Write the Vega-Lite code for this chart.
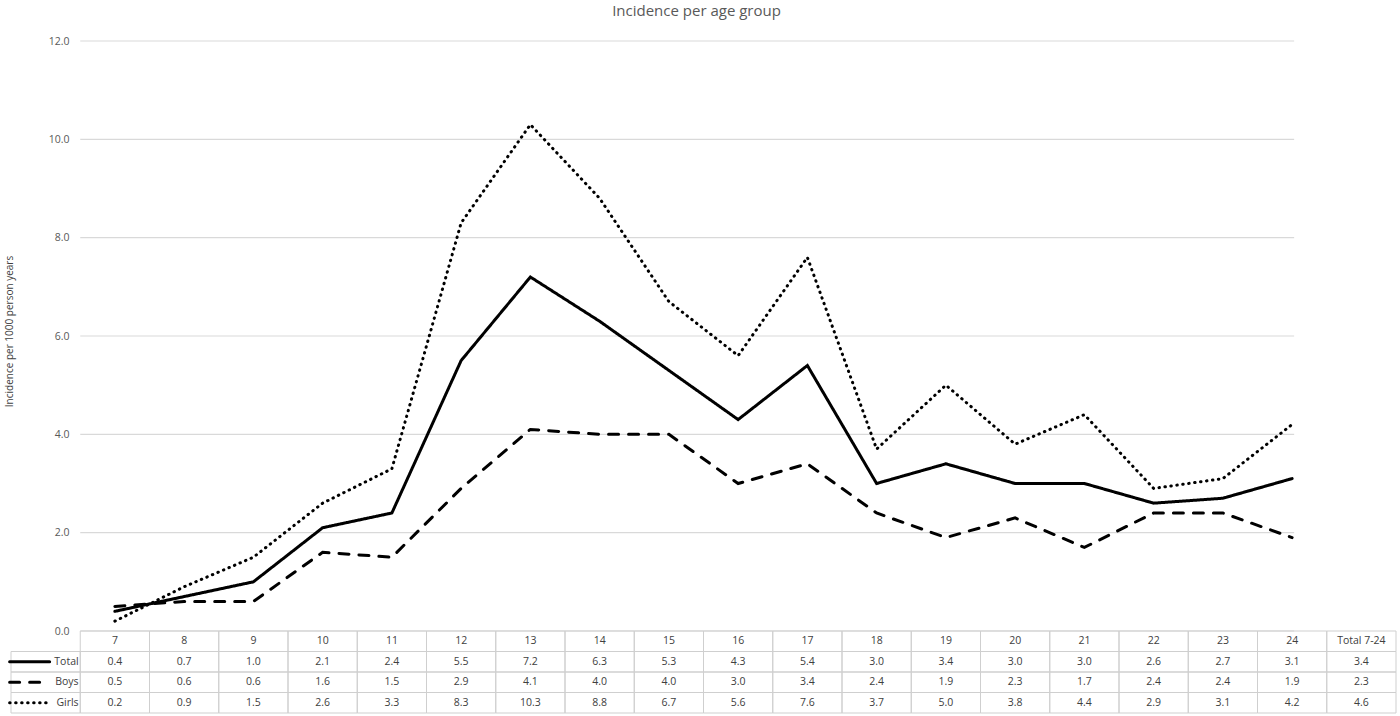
{
  "$schema": "https://vega.github.io/schema/vega-lite/v6.json",
  "description": "Incidence per 1000 person years by age, Excel style line chart with data table",
  "autosize": "pad",
  "padding": {"left": 3, "top": 4, "right": 5, "bottom": 2},
  "background": "white",
  "title": {
    "text": "Incidence per age group",
    "font": "Open Sans",
    "fontSize": 15,
    "fontWeight": "normal",
    "color": "#595959",
    "anchor": "middle",
    "frame": "group",
    "offset": 17,
    "dx": -7
  },
  "config": {
    "font": "Open Sans",
    "view": {"stroke": null}
  },
  "datasets": {
    "incidence": [
      {"series": "Total", "col": "7", "value": 0.4},
      {"series": "Total", "col": "8", "value": 0.7},
      {"series": "Total", "col": "9", "value": 1.0},
      {"series": "Total", "col": "10", "value": 2.1},
      {"series": "Total", "col": "11", "value": 2.4},
      {"series": "Total", "col": "12", "value": 5.5},
      {"series": "Total", "col": "13", "value": 7.2},
      {"series": "Total", "col": "14", "value": 6.3},
      {"series": "Total", "col": "15", "value": 5.3},
      {"series": "Total", "col": "16", "value": 4.3},
      {"series": "Total", "col": "17", "value": 5.4},
      {"series": "Total", "col": "18", "value": 3.0},
      {"series": "Total", "col": "19", "value": 3.4},
      {"series": "Total", "col": "20", "value": 3.0},
      {"series": "Total", "col": "21", "value": 3.0},
      {"series": "Total", "col": "22", "value": 2.6},
      {"series": "Total", "col": "23", "value": 2.7},
      {"series": "Total", "col": "24", "value": 3.1},
      {"series": "Total", "col": "Total 7-24", "value": 3.4},
      {"series": "Boys", "col": "7", "value": 0.5},
      {"series": "Boys", "col": "8", "value": 0.6},
      {"series": "Boys", "col": "9", "value": 0.6},
      {"series": "Boys", "col": "10", "value": 1.6},
      {"series": "Boys", "col": "11", "value": 1.5},
      {"series": "Boys", "col": "12", "value": 2.9},
      {"series": "Boys", "col": "13", "value": 4.1},
      {"series": "Boys", "col": "14", "value": 4.0},
      {"series": "Boys", "col": "15", "value": 4.0},
      {"series": "Boys", "col": "16", "value": 3.0},
      {"series": "Boys", "col": "17", "value": 3.4},
      {"series": "Boys", "col": "18", "value": 2.4},
      {"series": "Boys", "col": "19", "value": 1.9},
      {"series": "Boys", "col": "20", "value": 2.3},
      {"series": "Boys", "col": "21", "value": 1.7},
      {"series": "Boys", "col": "22", "value": 2.4},
      {"series": "Boys", "col": "23", "value": 2.4},
      {"series": "Boys", "col": "24", "value": 1.9},
      {"series": "Boys", "col": "Total 7-24", "value": 2.3},
      {"series": "Girls", "col": "7", "value": 0.2},
      {"series": "Girls", "col": "8", "value": 0.9},
      {"series": "Girls", "col": "9", "value": 1.5},
      {"series": "Girls", "col": "10", "value": 2.6},
      {"series": "Girls", "col": "11", "value": 3.3},
      {"series": "Girls", "col": "12", "value": 8.3},
      {"series": "Girls", "col": "13", "value": 10.3},
      {"series": "Girls", "col": "14", "value": 8.8},
      {"series": "Girls", "col": "15", "value": 6.7},
      {"series": "Girls", "col": "16", "value": 5.6},
      {"series": "Girls", "col": "17", "value": 7.6},
      {"series": "Girls", "col": "18", "value": 3.7},
      {"series": "Girls", "col": "19", "value": 5.0},
      {"series": "Girls", "col": "20", "value": 3.8},
      {"series": "Girls", "col": "21", "value": 4.4},
      {"series": "Girls", "col": "22", "value": 2.9},
      {"series": "Girls", "col": "23", "value": 3.1},
      {"series": "Girls", "col": "24", "value": 4.2},
      {"series": "Girls", "col": "Total 7-24", "value": 4.6}
    ],
    "series": [
      {"series": "Total"},
      {"series": "Boys"},
      {"series": "Girls"}
    ],
    "grid": [
      {"tick": 0}, {"tick": 2}, {"tick": 4}, {"tick": 6},
      {"tick": 8}, {"tick": 10}, {"tick": 12}
    ]
  },
  "bounds": "flush",
  "spacing": 0,
  "vconcat": [
    {
      "width": 1385,
      "height": 590,
      "layer": [
        {
          "data": {"name": "grid"},
          "mark": {"type": "rule", "color": "#d9d9d9", "strokeWidth": 1.2, "xOffset": -34.6, "x2Offset": 2},
          "encoding": {
            "x": {
              "datum": "7",
              "type": "nominal",
              "scale": {
                "type": "band",
                "domain": ["", "7", "8", "9", "10", "11", "12", "13", "14", "15", "16", "17", "18", "19", "20", "21", "22", "23", "24", "Total 7-24"],
                "paddingInner": 0,
                "paddingOuter": 0
              },
              "axis": null
            },
            "x2": {"datum": "24"},
            "y": {
              "field": "tick",
              "type": "quantitative",
              "scale": {"domain": [0, 12], "nice": false},
              "axis": {
                "values": [0, 2, 4, 6, 8, 10, 12],
                "format": ".1f",
                "domain": false,
                "ticks": false,
                "grid": false,
                "offset": -62,
                "labelPadding": 4,
                "labelFontSize": 10.5,
                "labelColor": "#595959",
                "title": "Incidence per 1000 person years",
                "titleFontSize": 10,
                "titleFontWeight": "normal",
                "titleColor": "#404040",
                "titleBaseline": "middle",
                "titleX": -64,
                "titleY": 290
              }
            }
          }
        },
        {
          "data": {"name": "incidence"},
          "transform": [{"filter": "datum.col !== 'Total 7-24'"}],
          "mark": {"type": "line", "color": "#000000", "strokeWidth": 3, "strokeCap": "round", "strokeJoin": "miter"},
          "encoding": {
            "x": {"field": "col", "type": "nominal", "axis": null},
            "y": {"field": "value", "type": "quantitative"},
            "strokeDash": {
              "field": "series",
              "type": "nominal",
              "scale": {"domain": ["Total", "Boys", "Girls"], "range": [[1, 0], [10, 10], [0.5, 5.5]]},
              "legend": null
            },
            "order": {"value": null}
          }
        }
      ]
    },
    {
      "width": 1385,
      "height": 82,
      "encoding": {
        "x": {
          "field": "col",
          "type": "nominal",
          "scale": {
            "type": "band",
            "domain": ["", "7", "8", "9", "10", "11", "12", "13", "14", "15", "16", "17", "18", "19", "20", "21", "22", "23", "24", "Total 7-24"],
            "paddingInner": 0,
            "paddingOuter": 0
          },
          "axis": null
        },
        "y": {
          "field": "series",
          "type": "nominal",
          "scale": {"type": "band", "domain": ["hdr", "Total", "Boys", "Girls"], "paddingInner": 0, "paddingOuter": 0},
          "axis": null
        }
      },
      "layer": [
        {
          "data": {"name": "incidence"},
          "mark": {"type": "rect", "fill": "white", "fillOpacity": 0, "stroke": "#cfcfcf", "strokeWidth": 1}
        },
        {
          "data": {"name": "incidence"},
          "transform": [{"filter": "datum.series === 'Total'"}],
          "mark": {"type": "rect", "fill": "white", "fillOpacity": 0, "stroke": "#cfcfcf", "strokeWidth": 1},
          "encoding": {"y": {"datum": "hdr", "type": "nominal"}}
        },
        {
          "data": {"name": "series"},
          "mark": {"type": "rect", "fill": "white", "fillOpacity": 0, "stroke": "#cfcfcf", "strokeWidth": 1},
          "encoding": {"x": {"datum": "", "type": "nominal"}}
        },
        {
          "data": {"name": "incidence"},
          "mark": {"type": "text", "fontSize": 10.5, "color": "#404040"},
          "encoding": {"text": {"field": "value", "type": "quantitative", "format": ".1f"}}
        },
        {
          "data": {"name": "incidence"},
          "transform": [{"filter": "datum.series === 'Total'"}],
          "mark": {"type": "text", "fontSize": 10.5, "color": "#404040"},
          "encoding": {
            "y": {"datum": "hdr", "type": "nominal"},
            "text": {"field": "col", "type": "nominal"}
          }
        },
        {
          "data": {"name": "series"},
          "mark": {"type": "text", "fontSize": 10.5, "color": "#404040", "align": "right", "dx": 33},
          "encoding": {
            "x": {"datum": "", "type": "nominal"},
            "text": {"field": "series", "type": "nominal"}
          }
        },
        {
          "data": {"name": "series"},
          "mark": {"type": "point", "shape": "M-1,0L1,0", "size": 1600, "filled": false, "color": "#000000", "strokeWidth": 3, "strokeCap": "round", "opacity": 1, "xOffset": -16},
          "encoding": {
            "x": {"datum": "", "type": "nominal"},
            "strokeDash": {
              "field": "series",
              "type": "nominal",
              "scale": {"domain": ["Total", "Boys", "Girls"], "range": [[1, 0], [10, 10], [0.5, 5.5]]},
              "legend": null
            }
          }
        }
      ]
    }
  ]
}
